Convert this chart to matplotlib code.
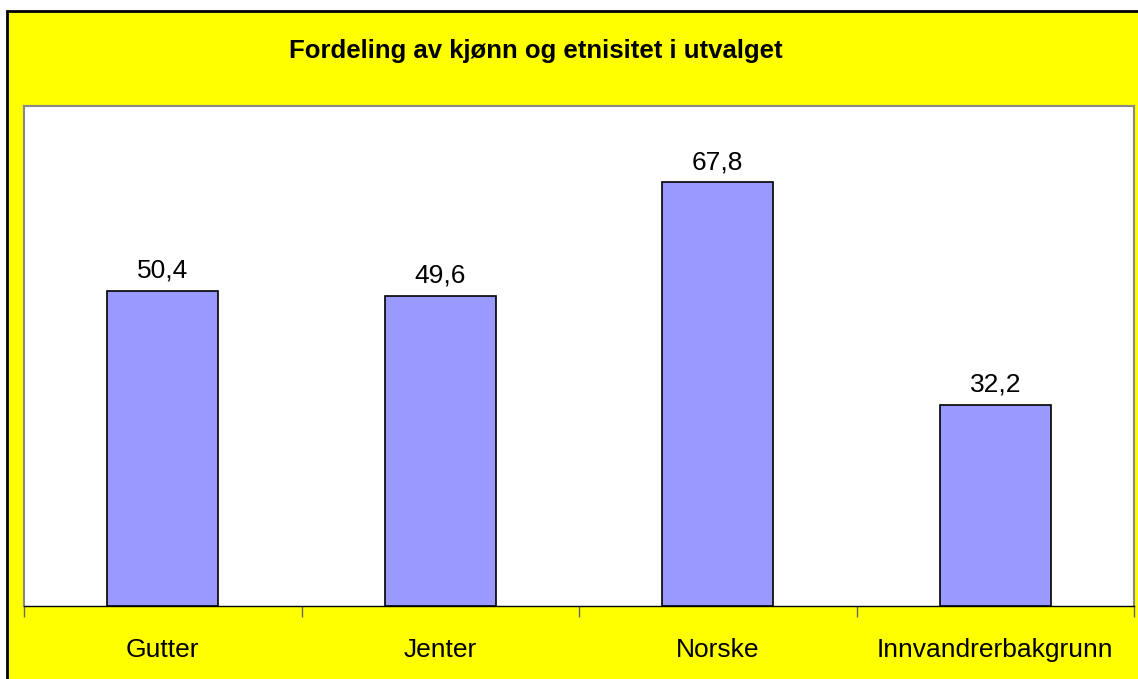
import matplotlib.pyplot as plt
from matplotlib.patches import Rectangle
import numpy as np

categories = ['Gutter', 'Jenter', 'Norske', 'Innvandrerbakgrunn']
values = [50.4, 49.6, 67.8, 32.2]
value_labels = ['50,4', '49,6', '67,8', '32,2']

plt.rcParams['font.family'] = ['Liberation Sans', 'DejaVu Sans']

W, H = 1138, 679
fig = plt.figure(figsize=(W / 100, H / 100), dpi=100)
fig.patch.set_facecolor('white')

# yellow chart area with black border on left/top
fig.patches.append(Rectangle((7 / W, -0.05), 1.1, 1 - 11 / H + 0.05,
                             transform=fig.transFigure, facecolor='#FFFF00',
                             edgecolor='black', linewidth=2, zorder=-5))

ax = fig.add_axes([24 / W, (H - 606) / H, 1110 / W, 500 / H])
ax.set_zorder(1)
ax.set_facecolor('white')

x = np.arange(len(categories))
bars = ax.bar(x, values, width=0.4, color='#9999FF', edgecolor='black', linewidth=1.2, zorder=3)
for b, lab in zip(bars, value_labels):
    ax.annotate(lab, (b.get_x() + b.get_width() / 2, b.get_height()),
                xytext=(0, 8), textcoords='offset pixels',
                ha='center', va='bottom', fontsize=19)

ax.set_xlim(-0.5, len(categories) - 0.5)
ax.set_ylim(0, 80)
ax.set_yticks([])

ax.set_xticks(np.arange(len(categories) + 1) - 0.5)
ax.set_xticklabels([])
ax.tick_params(axis='x', which='major', length=8, width=1, color='#666666', direction='out')
ax.set_xticks(x, minor=True)
ax.set_xticklabels(categories, minor=True, fontsize=19)
ax.tick_params(axis='x', which='minor', length=0, pad=23)

for s in ['left', 'top', 'right']:
    ax.spines[s].set_color('#888888')
    ax.spines[s].set_linewidth(1.5)
ax.spines['bottom'].set_color('black')
ax.spines['bottom'].set_linewidth(1)

fig.text(536 / W, 1 - 51 / H, 'Fordeling av kjønn og etnisitet i utvalget',
         ha='center', va='center', fontsize=18.5, fontweight='bold')

fig.savefig('out.png', dpi=100, facecolor=fig.get_facecolor())
